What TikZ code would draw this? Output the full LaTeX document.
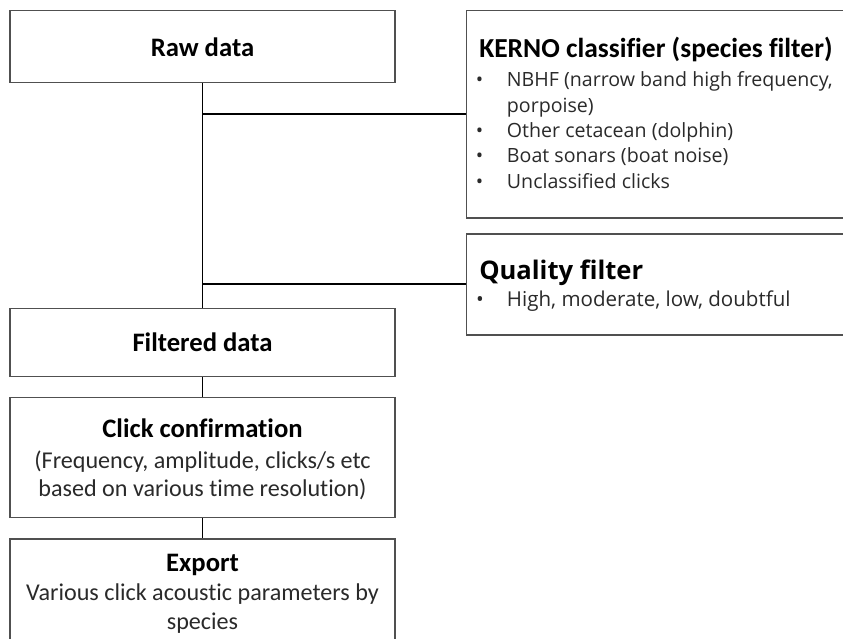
\documentclass[tikz,border=0pt]{standalone}
\usepackage{fontspec}
\setmainfont{Carlito}[Ligatures=NoCommon,RawFeature={-liga;-dlig}]
\newfontfamily\osans{Open Sans}
\definecolor{boxline}{HTML}{505050}
\definecolor{txtgray}{HTML}{2A2A2A}
\begin{document}
\begin{tikzpicture}[x=0.75pt,y=-0.75pt,
  box/.style={draw=boxline,line width=0.9pt,inner sep=0pt,fill=white},
  conn/.style={draw=black,line width=0.8pt},
  txt/.style={inner sep=0pt,text=black},
  ttl/.style={txt,font=\bfseries\fontsize{20}{24}\selectfont},
  reg/.style={txt,text=txtgray,font=\fontsize{18.1}{22}\selectfont},
  blt/.style={txt,text=txtgray,font=\osans\fontsize{14.7}{18}\selectfont},
  bltq/.style={txt,text=txtgray,font=\osans\fontsize{15.4}{18}\selectfont}]
\useasboundingbox (0,0) rectangle (843,639);
\clip (0,0) rectangle (843,639);
\fill[white] (0,0) rectangle (843,639);

\coordinate (b1) at (202.5,114);
\coordinate (b2) at (202.5,284);

% boxes
\node[box,minimum width={385*0.75pt},minimum height={72*0.75pt}] (raw) at (202.5,46.7) {};
\node[box,minimum width={385*0.75pt},minimum height={68.4*0.75pt}] (filt) at (202.5,342.5) {};
\node[box,minimum width={385*0.75pt},minimum height={120*0.75pt}] (click) at (202.5,457.7) {};
\node[box,minimum width={385*0.75pt},minimum height={180*0.75pt}] (export) at (202.5,629) {};
\node[box,minimum width={440*0.75pt},minimum height={207.3*0.75pt}] (kerno) at (686.5,114.35) {};
\node[box,minimum width={440*0.75pt},minimum height={101*0.75pt}] (quality) at (686.5,284.5) {};

\draw[conn] (raw.south) -- (filt.north);
\draw[conn] (b1) -- (b1 -| kerno.west);
\draw[conn] (b2) -- (b2 -| quality.west);
\draw[conn] (filt.south) -- (click.north);
\draw[conn] (click.south) -- (export.north);

% texts left column
\node[ttl,anchor=base] (traw) at (202.5,56) {Raw data};
\node[ttl,anchor=base] (tfilt) at (202.5,351.7) {Filtered data};
\node[ttl,anchor=base] (tclick) at (202.5,437) {Click confirmation};
\node[reg,anchor=base] (tclick1) at (202.5,468.3) {(Frequency, amplitude, clicks/s etc};
\node[reg,anchor=base] (tclick2) at (202.5,496.7) {based on various time resolution)};
\node[ttl,anchor=base] (texp) at (202.5,571.7) {Export};
\node[reg,anchor=base] (texp1) at (202.5,600.7) {Various click acoustic parameters by};
\node[reg,anchor=base] (texp2) at (202.5,629.5) {species};

% KERNO box text
\node[ttl,anchor=base west,font=\bfseries\fontsize{20.6}{24}\selectfont] (tkerno) at (479,57) {KERNO classifier (species filter)};
\node[blt,anchor=base] (k1b) at (479.5,86.7) {•};
\node[blt,anchor=base west] (k1) at (506.7,86.7) {NBHF (narrow band high frequency,};
\node[blt,anchor=base west] (k1c) at (506.7,112.3) {porpoise)};
\node[blt,anchor=base] (k2b) at (479.5,137.6) {•};
\node[blt,anchor=base west] (k2) at (506.7,137.6) {Other cetacean (dolphin)};
\node[blt,anchor=base] (k3b) at (479.5,162.9) {•};
\node[blt,anchor=base west] (k3) at (506.7,162.9) {Boat sonars (boat noise)};
\node[blt,anchor=base] (k4b) at (479.5,188.2) {•};
\node[blt,anchor=base west] (k4) at (506.7,188.2) {Unclassified clicks};

% Quality box text
\node[txt,anchor=base west,font=\osans\bfseries\fontsize{19.2}{23}\selectfont] (tqual) at (479,279.5) {Quality filter};
\node[bltq,anchor=base] (q1b) at (480,306.7) {•};
\node[bltq,anchor=base west] (q1) at (506.7,306.7) {High, moderate, low, doubtful};
\end{tikzpicture}
\end{document}
